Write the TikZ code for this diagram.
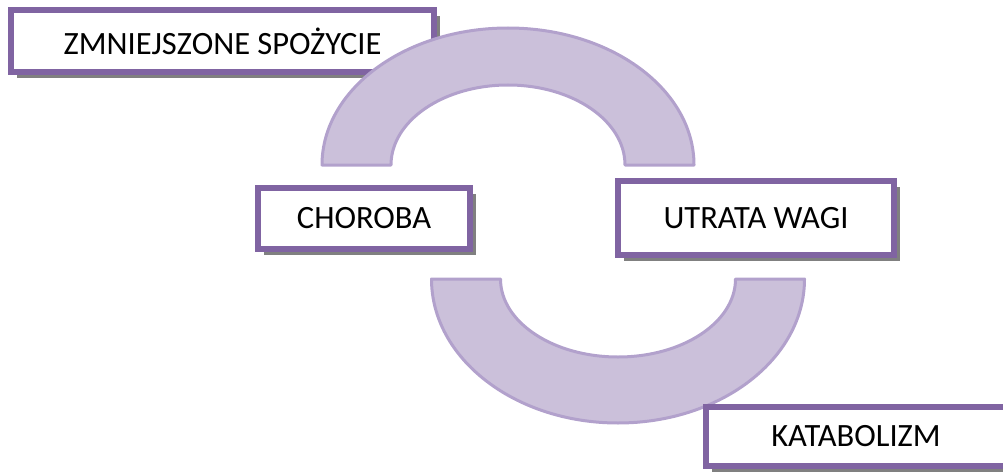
\documentclass[tikz,border=0pt]{standalone}
\usepackage{fontspec}
\setmainfont{Carlito}
\usetikzlibrary{shadows}
\usetikzlibrary{calc}
\definecolor{boxpurple}{HTML}{8064A2}
\definecolor{arcfill}{HTML}{CBC0DA}
\definecolor{arcline}{HTML}{B2A1CC}

\begin{document}
\begin{tikzpicture}[box/.style={draw=boxpurple, fill=white, rectangle, line width=0.12cm, inner sep=4pt,
				minimum height=1.24cm, font=\fontsize{18.5}{22}\selectfont,
				drop shadow={shadow xshift=0.12cm, shadow yshift=-0.12cm, fill=black!50, opacity=1}},
				loop/.style={draw=arcline, fill=arcfill, line width=0.06cm, line join=round}]
				\useasboundingbox (0, 0) rectangle (20.06, -9.5);
				\clip (0, 0) rectangle (20.06, -9.5);
				
				\node[box, minimum width=8.46cm](node1) at (4.45, -0.83) {ZMNIEJSZONE SPOŻYCIE};
				
				% the two half rings
				\coordinate (topc) at (10.16, -3.30);
				\coordinate (botc) at (12.36, -5.58);
				\path[loop] ($(topc)+(-3.72, 0)$) arc[start angle=180, end angle=0, x radius=3.72cm, y radius=2.74cm]
					-- ++(-1.38, 0) arc[start angle=0, end angle=180, x radius=2.34cm, y radius=1.60cm] -- cycle;
				\path[loop] ($(botc)+(-3.73, 0)$) arc[start angle=180, end angle=360, x radius=3.73cm, y radius=2.88cm]
					-- ++(-1.38, 0) arc[start angle=360, end angle=180, x radius=2.35cm, y radius=1.56cm] -- cycle;
				
				\node[box, minimum width=4.24cm, minimum height=1.22cm](node2) at (7.28, -4.37) {CHOROBA};
				\node[box, minimum width=5.52cm, minimum height=1.48cm](node3) at (15.12, -4.36) {UTRATA WAGI};
				\node[box, minimum width=6.00cm, minimum height=1.18cm](node4) at (17.12, -8.73) {KATABOLIZM};
			\end{tikzpicture}
\end{document}
